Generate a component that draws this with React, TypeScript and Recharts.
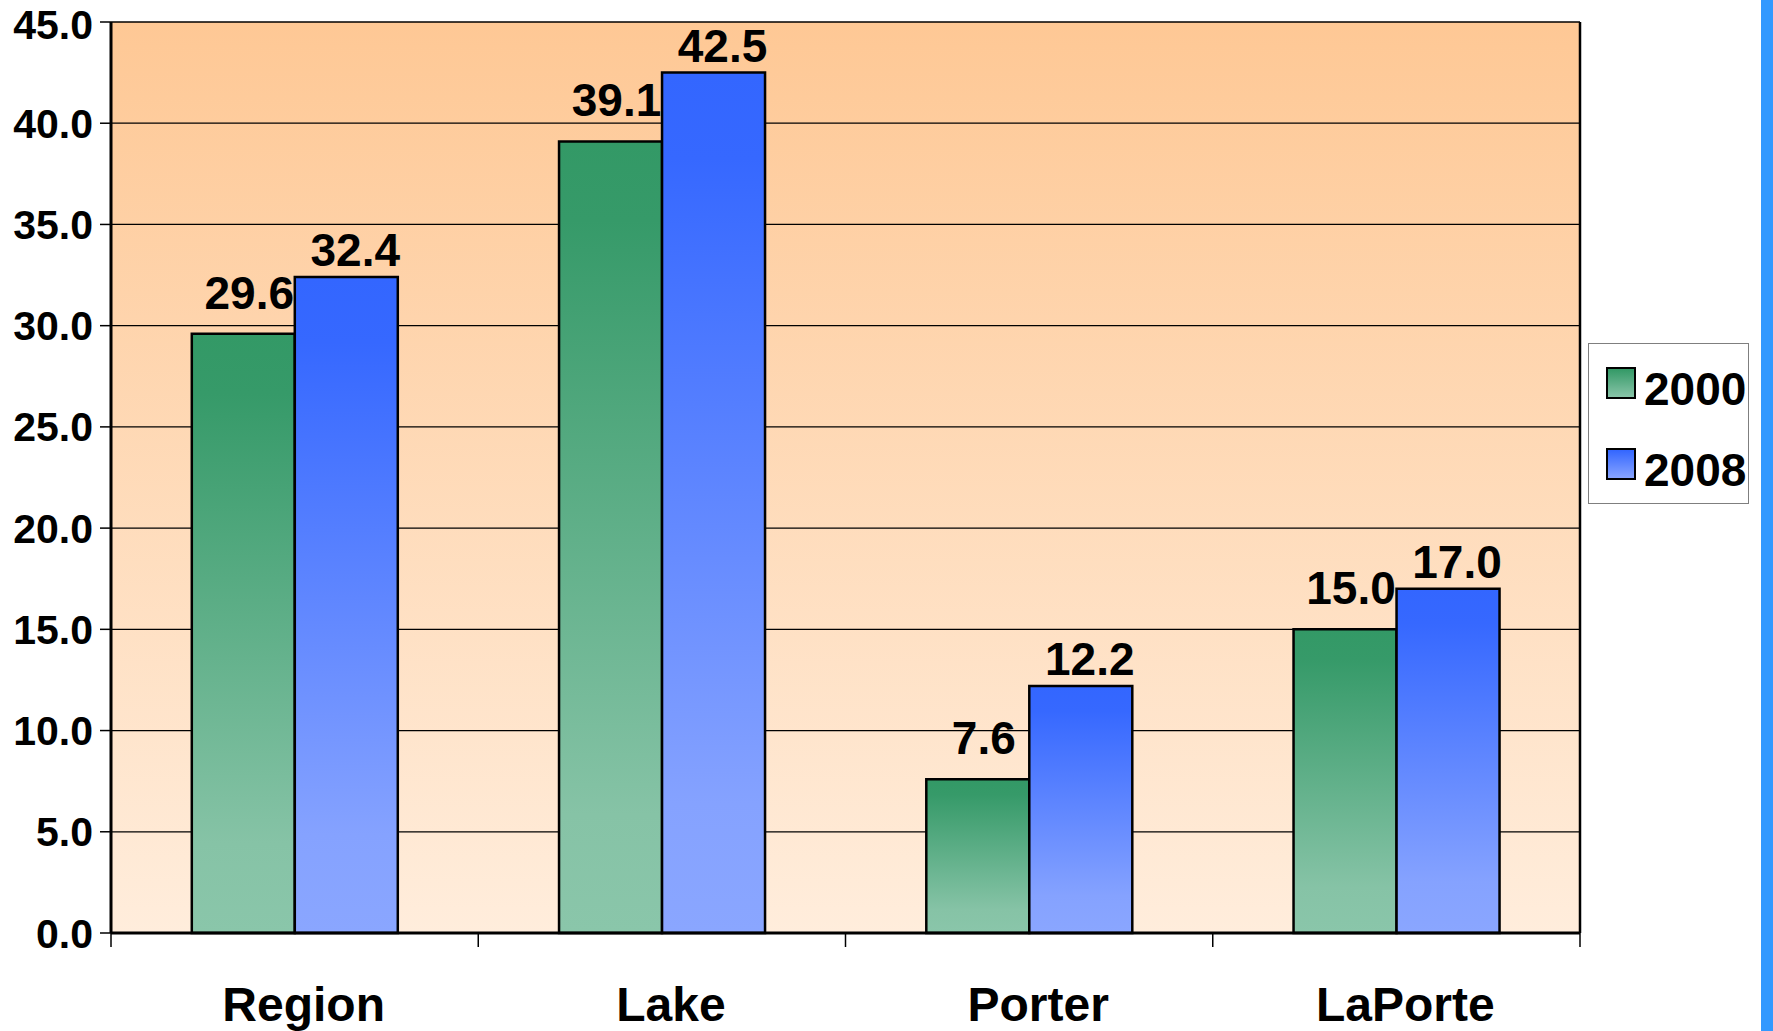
import { Bar, BarChart, CartesianGrid, LabelList, Legend, XAxis, YAxis } from 'recharts'

const AREAS = ['Region', 'Lake', 'Porter', 'LaPorte']
const VALUES_2000 = [29.6, 39.1, 7.6, 15.0]
const VALUES_2008 = [32.4, 42.5, 12.2, 17.0]
const Y_TICKS = [0, 5, 10, 15, 20, 25, 30, 35, 40, 45]

const data = AREAS.map((area, i) => ({ area, y2000: VALUES_2000[i], y2008: VALUES_2008[i] }))

const FONT = '"Liberation Sans", Arial, sans-serif'

// css versions of the bar gradients for the legend swatches
const SWATCH: Record<string, string> = {
  y2000: 'linear-gradient(#339966, #88c4a8)',
  y2008: 'linear-gradient(#3366ff, #88a4ff)',
}

// category label plus the little tick marks on the category boundaries
function AreaTick(props: any) {
  const { x, y, payload, index } = props
  const half = payload?.offset || 183.5
  const last = index === AREAS.length - 1
  return (
    <g>
      <line x1={x - half} x2={x - half} y1={y} y2={y + 14} stroke="#000" strokeWidth={1.5} />
      {last && <line x1={x + half} x2={x + half} y1={y} y2={y + 14} stroke="#000" strokeWidth={1.5} />}
      <text
        x={x + 9}
        y={y + 88}
        textAnchor="middle"
        fill="#000"
        fontSize={48}
        fontWeight={700}
        fontFamily={FONT}
      >
        {payload.value}
      </text>
    </g>
  )
}

function LegendBox({ payload }: { payload?: any[] }) {
  return (
    <div
      style={{
        position: 'relative',
        width: 161,
        height: 161,
        boxSizing: 'border-box',
        border: '1.5px solid #7f7f7f',
        background: '#fff',
        fontFamily: FONT,
      }}
    >
      {(payload ?? []).map((p, i) => (
        <div key={p.value}>
          <span
            style={{
              position: 'absolute',
              left: 17,
              top: 23 + i * 81,
              width: 30,
              height: 32,
              boxSizing: 'border-box',
              border: '2.5px solid #000',
              background: SWATCH[p.dataKey],
            }}
          />
          <span
            style={{
              position: 'absolute',
              left: 55,
              top: 22 + i * 81,
              fontSize: 46,
              lineHeight: 1,
              fontWeight: 700,
              color: '#000',
              whiteSpace: 'nowrap',
            }}
          >
            {p.value}
          </span>
        </div>
      ))}
    </div>
  )
}

export default function App() {
  const tickStyle = { fill: '#000', fontSize: 41, fontWeight: 700, fontFamily: FONT }
  return (
    <div style={{ position: 'absolute', left: 0, top: 0, width: 1773, height: 1031, background: '#fff', fontFamily: FONT }}>
      <BarChart
        width={1773}
        height={1031}
        data={data}
        margin={{ top: 22, right: 192, bottom: 97, left: 0 }}
        barCategoryGap="22%"
        barGap={0}
      >
        <defs>
          <linearGradient id="plotBg" x1="0" y1="0" x2="0" y2="1">
            <stop offset="0" stopColor="#fec895" />
            <stop offset="1" stopColor="#ffeddc" />
          </linearGradient>
          <linearGradient id="g2000" x1="0" y1="0" x2="0" y2="1">
            <stop offset="0" stopColor="#339966" />
            <stop offset="0.1" stopColor="#369a69" />
            <stop offset="0.85" stopColor="#86c3a6" />
            <stop offset="1" stopColor="#8ac6aa" />
          </linearGradient>
          <linearGradient id="g2008" x1="0" y1="0" x2="0" y2="1">
            <stop offset="0" stopColor="#3366ff" />
            <stop offset="0.1" stopColor="#3668ff" />
            <stop offset="0.85" stopColor="#85a2ff" />
            <stop offset="1" stopColor="#8aa6ff" />
          </linearGradient>
        </defs>
        <CartesianGrid vertical={false} stroke="#000" strokeWidth={1.3} fill="url(#plotBg)" fillOpacity={1} />
        <XAxis
          dataKey="area"
          height={1}
          axisLine={{ stroke: '#000', strokeWidth: 3 }}
          tickLine={false}
          tickSize={0}
          tickMargin={0}
          interval={0}
          tick={<AreaTick />}
        />
        <YAxis
          domain={[0, 45]}
          ticks={Y_TICKS}
          width={111}
          tickFormatter={(v: number) => v.toFixed(1)}
          tick={tickStyle}
          tickSize={11}
          tickMargin={7}
          tickLine={{ stroke: '#000', strokeWidth: 1.5 }}
          axisLine={{ stroke: '#000', strokeWidth: 3 }}
        />
        {/* right-hand frame of the plot area */}
        <YAxis
          yAxisId="frame"
          orientation="right"
          domain={[0, 45]}
          width={1}
          tick={false}
          tickLine={false}
          axisLine={{ stroke: '#000', strokeWidth: 2.5 }}
        />
        <Legend
          layout="horizontal"
          align="center"
          verticalAlign="middle"
          wrapperStyle={{ left: 1588, top: 343, width: 161, height: 161 }}
          content={<LegendBox />}
        />
        <Bar dataKey="y2000" name="2000" fill="url(#g2000)" stroke="#000" strokeWidth={2.5} isAnimationActive={false}>
          <LabelList
            dataKey="y2000"
            position="top"
            offset={25}
            dx={6}
            formatter={(v: number) => v.toFixed(1)}
            fill="#000"
            fontSize={46}
            fontWeight={700}
            fontFamily={FONT}
          />
        </Bar>
        <Bar dataKey="y2008" name="2008" fill="url(#g2008)" stroke="#000" strokeWidth={2.5} isAnimationActive={false}>
          <LabelList
            dataKey="y2008"
            position="top"
            offset={11}
            dx={9}
            formatter={(v: number) => v.toFixed(1)}
            fill="#000"
            fontSize={46}
            fontWeight={700}
            fontFamily={FONT}
          />
        </Bar>
      </BarChart>
      <div style={{ position: 'absolute', left: 1761, top: 0, width: 12, height: 1031, background: '#3399ff' }} />
    </div>
  )
}
